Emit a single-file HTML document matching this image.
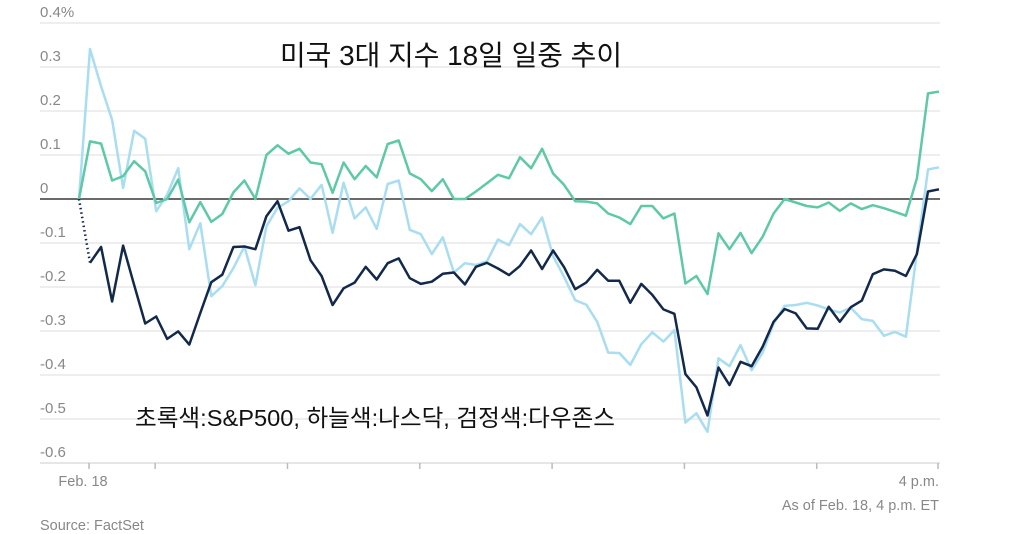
<!DOCTYPE html>
<html><head><meta charset="utf-8"><style>
body{margin:0;background:#fff;}
svg{display:block;font-family:"Liberation Sans","Noto Sans CJK KR",sans-serif;}
</style></head><body>
<svg width="1024" height="534" viewBox="0 0 1024 534">
<g id="grid"></g>
<g id="ylabels"></g>
<g id="xaxis"></g>
<g id="series"></g>
<text x="451" y="65" font-size="28" fill="#111" text-anchor="middle" textLength="342" lengthAdjust="spacingAndGlyphs">미국 3대 지수 18일 일중 추이</text>
<text x="135" y="426" font-size="23.5" fill="#111" textLength="480" lengthAdjust="spacingAndGlyphs">초록색:S&amp;P500, 하늘색:나스닥, 검정색:다우존스</text>
<text x="939" y="486" font-size="14.5" fill="#888" text-anchor="end">4 p.m.</text>
<text x="939" y="510" font-size="14.5" fill="#888" text-anchor="end">As of Feb. 18, 4 p.m. ET</text>
<text x="40" y="530" font-size="14.5" fill="#888">Source: FactSet</text>
<text x="83" y="486" font-size="14.5" fill="#888" text-anchor="middle">Feb. 18</text>
</svg>
<script>
const yTicks=[0.4,0.3,0.2,0.1,0,-0.1,-0.2,-0.3,-0.4,-0.5,-0.6];
const yTickLabels=["0.4%","0.3","0.2","0.1","0","-0.1","-0.2","-0.3","-0.4","-0.5","-0.6"];
const xTickIdx=[1,7,19,31,43,55,67,78];
const sp500=[0,0.131,0.126,0.042,0.052,0.086,0.063,-0.009,0,0.044,-0.053,-0.007,-0.052,-0.034,0.015,0.042,0,0.10,0.122,0.103,0.114,0.083,0.079,0.014,0.083,0.045,0.075,0.049,0.125,0.133,0.058,0.045,0.018,0.045,0.0,0,0.017,0.036,0.055,0.047,0.095,0.07,0.114,0.058,0.032,-0.005,-0.006,-0.01,-0.033,-0.042,-0.057,-0.016,-0.016,-0.044,-0.033,-0.192,-0.175,-0.216,-0.078,-0.114,-0.077,-0.123,-0.086,-0.033,0,-0.008,-0.016,-0.019,-0.008,-0.027,-0.01,-0.023,-0.014,-0.021,-0.029,-0.038,0.047,0.24,0.244];
const nasdaq=[0,0.341,0.256,0.18,0.025,0.155,0.137,-0.028,0.01,0.07,-0.114,-0.055,-0.221,-0.198,-0.157,-0.108,-0.196,-0.062,-0.02,-0.005,0.024,0.0,0.032,-0.077,0.037,-0.044,-0.019,-0.068,0.034,0.042,-0.07,-0.08,-0.125,-0.087,-0.167,-0.146,-0.15,-0.142,-0.092,-0.105,-0.057,-0.08,-0.042,-0.13,-0.177,-0.23,-0.24,-0.279,-0.349,-0.35,-0.377,-0.33,-0.303,-0.324,-0.298,-0.508,-0.487,-0.529,-0.362,-0.38,-0.332,-0.389,-0.349,-0.283,-0.243,-0.241,-0.236,-0.242,-0.251,-0.258,-0.247,-0.273,-0.277,-0.311,-0.302,-0.313,-0.12,0.067,0.072];
const dow=[0,-0.145,-0.109,-0.233,-0.106,-0.195,-0.283,-0.267,-0.318,-0.301,-0.331,-0.259,-0.189,-0.172,-0.109,-0.108,-0.114,-0.039,-0.005,-0.072,-0.064,-0.139,-0.175,-0.241,-0.203,-0.19,-0.154,-0.183,-0.146,-0.135,-0.18,-0.193,-0.188,-0.17,-0.167,-0.194,-0.154,-0.145,-0.158,-0.173,-0.152,-0.117,-0.159,-0.117,-0.155,-0.205,-0.19,-0.161,-0.186,-0.186,-0.236,-0.193,-0.218,-0.251,-0.261,-0.398,-0.428,-0.492,-0.383,-0.423,-0.37,-0.38,-0.336,-0.279,-0.25,-0.26,-0.294,-0.295,-0.245,-0.279,-0.246,-0.231,-0.171,-0.16,-0.163,-0.175,-0.125,0.017,0.022];
const NS='http://www.w3.org/2000/svg';
const N=sp500.length;
function xs(i){return 79+i*(860/(N-1));}
function ys(v){return 199-v*440;}
function mk(tag,attrs,parent){const e=document.createElementNS(NS,tag);for(const k in attrs)e.setAttribute(k,attrs[k]);parent.appendChild(e);return e;}
const grid=document.getElementById('grid'),yl=document.getElementById('ylabels'),xa=document.getElementById('xaxis'),sg=document.getElementById('series');
yTicks.forEach((t,k)=>{
  if(t!==0&&t!==-0.6){const l=mk('line',{x1:40,x2:940,y1:ys(t),y2:ys(t),stroke:'#e8e8e8','stroke-width':1.5},grid);
  
  }
  const tx=mk('text',{x:40,y:ys(t)-6,'font-size':15,fill:'#888'},yl);
  tx.textContent=yTickLabels[k];
  
  
});
const ax=mk('line',{x1:40,x2:940,y1:ys(-0.6),y2:ys(-0.6),stroke:'#ddd','stroke-width':1.5},xa);


xTickIdx.forEach(i=>{const t=mk('line',{x1:xs(i)-1,x2:xs(i)-1,y1:ys(-0.6),y2:ys(-0.6)+6,stroke:'#bbb','stroke-width':1.5},xa);
  
  });
const zl=mk('line',{x1:40,x2:940,y1:ys(0),y2:ys(0),stroke:'#111','stroke-width':1.2},grid);


function pts(arr,from){let s='';for(let i=from;i<arr.length;i++)s+=xs(i).toFixed(1)+','+ys(arr[i]).toFixed(1)+' ';return s;}
const pn=mk('polyline',{points:pts(nasdaq,0),fill:'none',stroke:'#a8ddf2','stroke-width':2.5,'stroke-linejoin':'round'},sg);


const ps=mk('polyline',{points:pts(sp500,0),fill:'none',stroke:'#5ec9a6','stroke-width':2.5,'stroke-linejoin':'round'},sg);


const pd0=mk('line',{x1:xs(0),y1:ys(dow[0]),x2:xs(1),y2:ys(dow[1]),stroke:'#13294b','stroke-width':2.5,'stroke-dasharray':'1.5 3'},sg);


const pd=mk('polyline',{points:pts(dow,1),fill:'none',stroke:'#13294b','stroke-width':2.5,'stroke-linejoin':'round'},sg);


</script>
</body></html>
